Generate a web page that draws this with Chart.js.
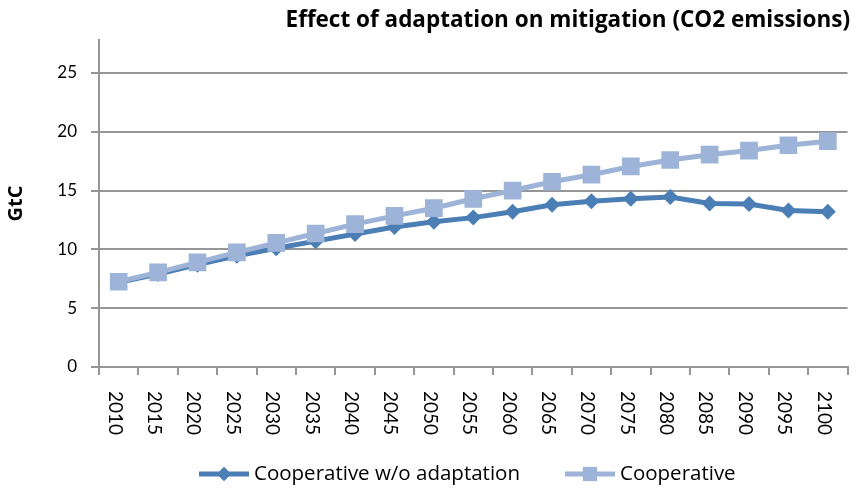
<!DOCTYPE html>
<html>
<head>
<meta charset="utf-8">
<script src="https://cdn.jsdelivr.net/npm/chart.js@4"></script>
<style>
  body { margin: 0; background: #fff; }
  #wrap { width: 857px; height: 491px; overflow: hidden; }
</style>
</head>
<body>
<div id="wrap"><canvas id="chart" width="860" height="491"></canvas></div>
<script>
const years = ["2010", "2015", "2020", "2025", "2030", "2035", "2040", "2045", "2050", "2055",
  "2060", "2065", "2070", "2075", "2080", "2085", "2090", "2095", "2100"];
const noAdaptation = [7.2, 7.9, 8.7, 9.45, 10.1, 10.7, 11.3, 11.9, 12.35, 12.7,
  13.2, 13.8, 14.1, 14.3, 14.45, 13.9, 13.85, 13.3, 13.2];
const cooperative = [7.25, 8.05, 8.9, 9.75, 10.55, 11.35, 12.15, 12.85, 13.5, 14.3,
  15.0, 15.75, 16.35, 17.05, 17.6, 18.05, 18.4, 18.85, 19.2];
const yTicks = [0, 5, 10, 15, 20, 25];
const titleText = "Effect of adaptation on mitigation (CO2 emissions)";

const darkBlue = "#4a7eb5";
const lightBlue = "#9db3d7";
const axisGrey = "#969696";
const font = "Lato, 'Open Sans', sans-serif";
const wideFont = "'Open Sans', sans-serif";

// draws the title, the rotated year labels and the legend
const extras = {
  id: "extras",
  afterDraw(chart) {
    const ctx = chart.ctx;
    const x = chart.scales.x;
    ctx.save();
    ctx.fillStyle = "#000";

    ctx.font = "bold 22.5px " + wideFont;
    ctx.textAlign = "right";
    ctx.textBaseline = "alphabetic";
    ctx.fillText(titleText, 850, 27);

    ctx.font = "19px " + font;
    ctx.textAlign = "left";
    ctx.textBaseline = "middle";
    years.forEach((y, i) => {
      ctx.save();
      ctx.translate(x.getPixelForValue(i) - 4, 391);
      ctx.rotate(Math.PI / 2);
      ctx.fillText(y, 0, 0);
      ctx.restore();
    });

    const items = [
      { label: "Cooperative w/o adaptation", color: darkBlue, style: "rectRot", r: 7, x0: 199 },
      { label: "Cooperative", color: lightBlue, style: "rect", r: 10, x0: 565 }
    ];
    const ly = 474;
    ctx.font = "20.5px " + wideFont;
    items.forEach(it => {
      ctx.strokeStyle = it.color;
      ctx.lineWidth = 5;
      ctx.beginPath();
      ctx.moveTo(it.x0, ly);
      ctx.lineTo(it.x0 + 50, ly);
      ctx.stroke();
      ctx.fillStyle = it.color;
      Chart.helpers.drawPoint(ctx, { pointStyle: it.style, radius: it.r, borderWidth: 0 }, it.x0 + 25, ly);
      ctx.fill();
      ctx.fillStyle = "#000";
      ctx.fillText(it.label, it.x0 + 55, ly);
    });
    ctx.restore();
  }
};

new Chart(document.getElementById("chart"), {
  type: "line",
  data: {
    labels: years,
    datasets: [
      {
        label: "Cooperative w/o adaptation",
        data: noAdaptation,
        borderColor: darkBlue,
        backgroundColor: darkBlue,
        borderWidth: 5,
        pointStyle: "rectRot",
        pointRadius: 8,
        pointBorderWidth: 0,
        order: 1
      },
      {
        label: "Cooperative",
        data: cooperative,
        borderColor: lightBlue,
        backgroundColor: lightBlue,
        borderWidth: 5,
        pointStyle: "rect",
        pointRadius: 12.5,
        pointBorderWidth: 0,
        order: 0
      }
    ]
  },
  options: {
    responsive: false,
    animation: false,
    layout: { padding: { left: 0, top: 40, right: 1, bottom: 0 } },
    plugins: { legend: { display: false }, tooltip: { enabled: false } },
    scales: {
      x: {
        offset: true,
        grid: { offset: true, drawOnChartArea: false, color: axisGrey, lineWidth: 2, tickLength: 8 },
        border: { color: axisGrey, width: 2 },
        ticks: { display: false },
        afterFit(scale) { scale.height = 124; }
      },
      y: {
        min: 0,
        max: 27.8,
        afterBuildTicks(scale) { scale.ticks = yTicks.map(v => ({ value: v })); },
        grid: { color: axisGrey, lineWidth: 2, tickLength: 8 },
        border: { color: axisGrey, width: 2 },
        ticks: { color: "#000", font: { family: font, size: 17 }, padding: 14 },
        title: { display: true, text: "GtC", color: "#000", font: { family: wideFont, size: 20, weight: "bold" }, padding: { top: 4, bottom: 0 } },
        afterFit(scale) { scale.width = 99; }
      }
    }
  },
  plugins: [extras]
});
</script>
</body>
</html>
